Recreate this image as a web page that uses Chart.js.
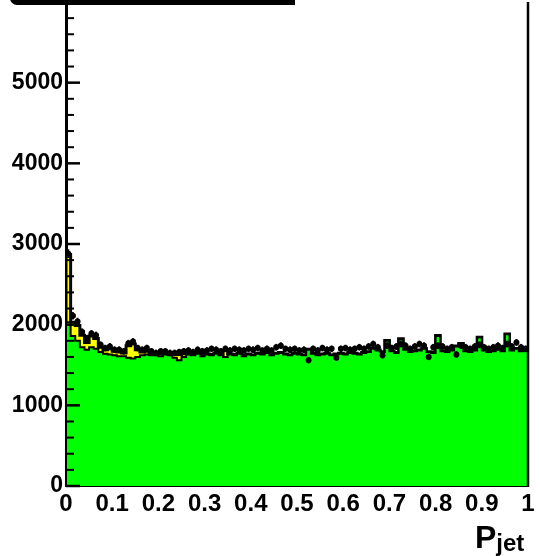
<!DOCTYPE html>
<html>
<head>
<meta charset="utf-8">
<script src="https://cdn.jsdelivr.net/npm/chart.js@4.4.1/dist/chart.umd.min.js"></script>
<style>
html,body{margin:0;padding:0;background:#fff;}
body{width:540px;height:556px;overflow:hidden;position:relative;font-family:"Liberation Sans",Arial,sans-serif;}
#wrap{position:absolute;left:0;top:-2px;width:540px;height:558px;}
#statbox{position:absolute;left:10px;top:-25px;width:285px;height:30px;box-sizing:border-box;border:5px solid #000;border-radius:0 0 0 7px;background:#fff;}
#xtitle{position:absolute;left:475px;top:521px;font-weight:bold;font-size:32px;line-height:1;color:#000;white-space:nowrap;}
#xtitle span{font-size:24px;position:relative;top:3px;}
</style>
</head>
<body>
<div id="wrap"><canvas id="c"></canvas></div>
<div id="statbox"></div>
<div id="xtitle">P<span>jet</span></div>
<script>
// histogram binning of P_jet
const nBins = 100;
const xLow = 0, xHigh = 1;

// axis tick labels
const xTicks = [0, 0.1, 0.2, 0.3, 0.4, 0.5, 0.6, 0.7, 0.8, 0.9, 1];
const yTicks = [0, 1000, 2000, 3000, 4000, 5000];

// MC component drawn in green (bin contents)
const greenMC = [
  2030,1860,1800,1720,1690,1720,1700,1660,1640,1630,
  1620,1610,1610,1590,1580,1600,1620,1630,1620,1620,
  1610,1630,1620,1590,1560,1600,1630,1620,1640,1610,
  1630,1620,1640,1620,1600,1630,1620,1640,1610,1630,
  1620,1640,1630,1650,1620,1640,1650,1630,1620,1640,
  1630,1620,1690,1640,1620,1630,1640,1620,1630,1640,
  1630,1650,1640,1630,1650,1660,1700,1680,1660,1800,
  1670,1650,1820,1690,1660,1670,1680,1700,1660,1650,
  1860,1670,1660,1680,1730,1760,1670,1660,1680,1840,
  1680,1660,1670,1690,1670,1880,1680,1700,1670,1680
];

// MC component stacked on top in yellow
const yellowMC = [
  840,170,190,150,90,140,130,60,50,70,
  50,50,40,150,180,90,40,40,30,20,
  30,20,20,40,70,40,10,10,5,10,
  5,10,5,10,80,5,10,5,10,5,
  5,5,5,5,5,5,5,5,5,5,
  5,5,5,5,5,5,5,5,5,5,
  5,5,5,5,5,5,5,5,5,5,
  5,5,5,5,5,5,5,5,5,5,
  5,5,5,5,5,5,5,5,5,5,
  5,5,5,5,5,5,5,5,5,5
];

// data points (black markers)
const dataPts = [
  2880,2110,2040,1910,1830,1890,1870,1750,1710,1730,
  1690,1690,1670,1770,1790,1710,1690,1710,1670,1650,
  1670,1670,1650,1650,1660,1670,1680,1660,1690,1670,
  1680,1700,1690,1670,1700,1680,1700,1690,1680,1700,
  1690,1710,1680,1700,1680,1720,1740,1700,1690,1700,
  1680,1690,1560,1700,1680,1710,1690,1700,1590,1700,
  1710,1690,1700,1720,1700,1730,1760,1720,1620,1740,
  1710,1730,1760,1740,1700,1730,1760,1740,1600,1720,
  1740,1730,1700,1720,1630,1740,1720,1700,1730,1750,
  1720,1700,1720,1740,1710,1760,1730,1780,1720,1700
];

const binW = (xHigh - xLow) / nBins;
const totalMC = greenMC.map((g, i) => g + yellowMC[i]);

function histPoints(vals) {
  const pts = [{x: xLow, y: 0}];
  vals.forEach((v, i) => pts.push({x: xLow + i * binW, y: v}));
  pts.push({x: xHigh, y: vals[vals.length - 1]});
  return pts;
}

const dataXY = dataPts.map((v, i) => ({x: xLow + (i + 0.5) * binW, y: v}));

const FAM = '"Liberation Sans", Arial, sans-serif';

// data error bars + frame + inner ticks
const extras = {
  id: 'extras',
  afterDatasetsDraw(chart) {
    const ctx = chart.ctx, xs = chart.scales.x, ys = chart.scales.y;
    ctx.save();
    ctx.strokeStyle = '#000';
    dataPts.forEach((v, i) => {
      const x0 = xs.getPixelForValue(xLow + i * binW);
      const x1 = xs.getPixelForValue(xLow + (i + 1) * binW);
      const xc = xs.getPixelForValue(xLow + (i + 0.5) * binW);
      const e = Math.sqrt(v);
      ctx.lineWidth = 3;
      ctx.beginPath();
      ctx.moveTo(x0, ys.getPixelForValue(v));
      ctx.lineTo(x1, ys.getPixelForValue(v));
      ctx.stroke();
      ctx.lineWidth = 2;
      ctx.beginPath();
      ctx.moveTo(xc, ys.getPixelForValue(v - e));
      ctx.lineTo(xc, ys.getPixelForValue(v + e));
      ctx.stroke();
    });
    ctx.restore();
  },
  afterDraw(chart) {
    const ctx = chart.ctx, a = chart.chartArea, ys = chart.scales.y;
    ctx.save();
    ctx.strokeStyle = '#000';
    // right frame
    ctx.lineWidth = 2.5;
    ctx.beginPath();
    ctx.moveTo(a.right, a.top);
    ctx.lineTo(a.right, a.bottom + 1);
    ctx.stroke();
    // y ticks pointing inwards, minor every 200
    for (let v = 0; v <= 6000; v += 200) {
      const y = ys.getPixelForValue(v);
      const major = v % 1000 === 0;
      ctx.lineWidth = major ? 2.5 : 2;
      ctx.beginPath();
      ctx.moveTo(a.left, y);
      ctx.lineTo(a.left + (major ? 14 : 8), y);
      ctx.stroke();
    }
    ctx.restore();
  }
};

new Chart(document.getElementById('c'), {
  data: {
    datasets: [
      {
        type: 'line', label: 'green', data: histPoints(greenMC), stepped: true,
        borderColor: '#000', borderWidth: 2, backgroundColor: '#00ff00',
        fill: 'origin', pointRadius: 0, order: 1
      },
      {
        type: 'line', label: 'yellow', data: histPoints(totalMC), stepped: true,
        borderColor: '#000', borderWidth: 3, backgroundColor: '#ffff00',
        fill: '-1', pointRadius: 0, order: 2
      },
      {
        type: 'scatter', label: 'data', data: dataXY,
        pointRadius: 3, pointBackgroundColor: '#000', pointBorderWidth: 0, order: 0
      }
    ]
  },
  options: {
    responsive: true,
    maintainAspectRatio: false,
    animation: false,
    devicePixelRatio: 1,
    layout: {padding: {top: 0, right: 12, bottom: 0, left: 0}},
    plugins: {legend: {display: false}, tooltip: {enabled: false}},
    scales: {
      x: {
        type: 'linear', min: xLow, max: xHigh, z: 1,
        grid: {display: false, drawTicks: false},
        border: {display: true, color: '#000', width: 2},
        afterBuildTicks(s) { s.ticks = xTicks.map(v => ({value: v})); },
        ticks: {
          autoSkip: false, maxRotation: 0, padding: 4, color: '#000',
          font: {family: FAM, size: 24, weight: 'bold'},
          callback: v => (v === 0 || v === 1) ? String(v) : v.toFixed(1)
        },
        afterFit(s) { s.height = 70; s.paddingLeft = 0; s.paddingRight = 0; }
      },
      y: {
        type: 'linear', min: 0, max: 6000, z: 1,
        grid: {display: false, drawTicks: false},
        border: {display: true, color: '#000', width: 3},
        afterBuildTicks(s) { s.ticks = yTicks.map(v => ({value: v})); },
        ticks: {padding: 3, color: '#000', font: {family: FAM, size: 23, weight: 'bold'}, callback: v => String(v)},
        afterFit(s) { s.width = 66; s.paddingTop = 0; s.paddingBottom = 0; }
      }
    }
  },
  plugins: [extras]
});
</script>
</body>
</html>
